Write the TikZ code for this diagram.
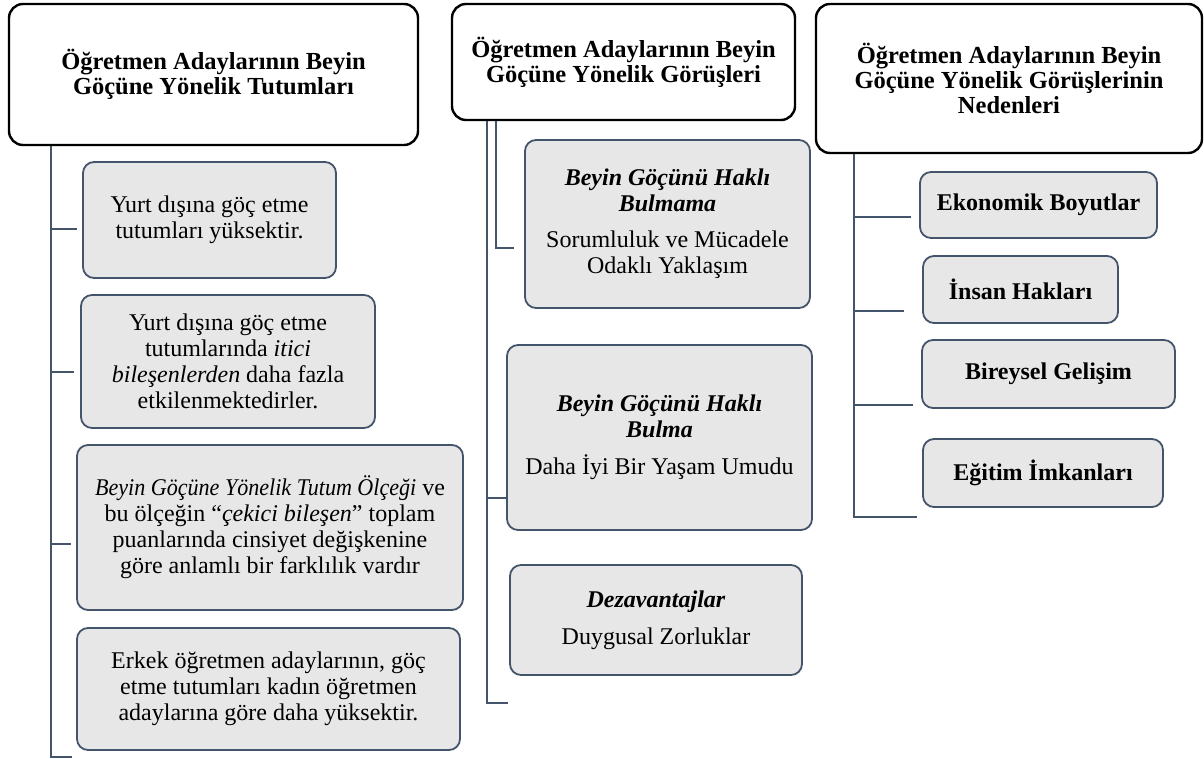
\documentclass[tikz,border=0pt]{standalone}
\usepackage{fontspec}
\setmainfont{Liberation Serif}
\usepackage{graphicx}
\usepackage{xcolor}
\usetikzlibrary{positioning}
\definecolor{koyu}{HTML}{44546A}
\definecolor{acik}{HTML}{E7E7E7}
\tikzset{
  baslik/.style={draw=black, line width=2.4pt, rounded corners=14pt, fill=white, align=center, inner sep=0pt, font=\bfseries\fontsize{24.5}{25}\selectfont},
  kutu/.style={draw=koyu, line width=1.8pt, rounded corners=11pt, fill=acik, align=center, inner sep=0pt, font=\fontsize{24}{26}\selectfont},
  kalin/.style={kutu, font=\bfseries\fontsize{24}{26}\selectfont},
  bag/.style={draw=koyu, line width=2.4pt}
}

\begin{document}
\begin{tikzpicture}[x=1pt, y=-1pt]
    \useasboundingbox (0,0) rectangle (1204,759);
    % basliklar
    \node[baslik, minimum width=409pt, minimum height=141pt] (tut) at (213.5,74.5) {Öğretmen Adaylarının Beyin\\Göçüne Yönelik Tutumları};
    \node[baslik, minimum width=343pt, minimum height=116pt] (gor) at (623.5,62) {Öğretmen Adaylarının Beyin\\Göçüne Yönelik Görüşleri};
    \node[baslik, minimum width=386pt, minimum height=149pt] (ned) at (1009,78.5) {Öğretmen Adaylarının Beyin\\Göçüne Yönelik Görüşlerinin\\Nedenleri};
    % tutumlar
    \node[kutu, minimum width=253pt, minimum height=116pt] (y1) at (209.5,220) {Yurt dışına göç etme\\tutumları yüksektir.};
    \node[kutu, minimum width=294pt, minimum height=133pt] (y2) at (228,361.5) {Yurt dışına göç etme\\tutumlarında \textit{itici}\\\textit{bileşenlerden} daha fazla\\etkilenmektedirler.};
    \node[kutu, minimum width=386pt, minimum height=165pt] (y3) at (270,527.5) {\scalebox{0.92}[1]{\textit{Beyin Göçüne Yönelik Tutum Ölçeği}} ve\\bu ölçeğin “\textit{çekici bileşen}” toplam\\puanlarında cinsiyet değişkenine\\göre anlamlı bir farklılık vardır};
    \node[kutu, minimum width=383pt, minimum height=122pt] (y4) at (268.5,689) {Erkek öğretmen adaylarının, göç\\etme tutumları kadın öğretmen\\adaylarına göre daha yüksektir.};
    % gorusler
    \node[kutu, minimum width=285pt, minimum height=168pt] (s1) at (667.5,224) {\textbf{\textit{Beyin Göçünü Haklı}}\\\textbf{\textit{Bulmama}}\\[10pt]Sorumluluk ve Mücadele\\Odaklı Yaklaşım};
    \node[kutu, minimum width=305pt, minimum height=185pt] (s2) at (659.5,437.5) {\textbf{\textit{Beyin Göçünü Haklı}}\\\textbf{\textit{Bulma}}\\[11pt]Daha İyi Bir Yaşam Umudu};
    \node[kutu, minimum width=292pt, minimum height=110pt] (s3) at (656,620) {\textbf{\textit{Dezavantajlar}}\\[11pt]Duygusal Zorluklar};
    % nedenler
    \node[kalin, minimum width=237pt, minimum height=66pt] (n1) at (1038.5,205) {Ekonomik Boyutlar};
    \node[kalin, minimum width=195pt, minimum height=67pt] (n2) at (1020.5,289.5) {İnsan Hakları};
    \node[kalin, minimum width=253pt, minimum height=68pt] (n3) at (1048.5,374) {Bireysel Gelişim};
    \node[kalin, minimum width=240pt, minimum height=68pt] (n4) at (1043,473) {Eğitim İmkanları};
    % baglar
    \coordinate (k1) at ([xshift=43pt]tut.south west);
    \coordinate (u1) at (72,757);
    \draw[bag] (k1) |- (u1);
    \draw[bag] (k1) |- ([xshift=-5pt, yshift=-9pt]y1.west);
    \draw[bag] (k1) |- ([xshift=-6pt, yshift=-10.5pt]y2.west);
    \draw[bag] (k1) |- ([xshift=-5pt, yshift=-16.5pt]y3.west);
    \coordinate (k2) at ([xshift=36pt]gor.south west);
    \coordinate (k3) at ([xshift=45pt]gor.south west);
    \coordinate (u2) at (508,703);
    \draw[bag] (k2) |- (u2);
    \draw[bag] (k2) |- ([yshift=-60.5pt]s2.west);
    \draw[bag] (k3) |- ([xshift=-10pt, yshift=-24pt]s1.west);
    \coordinate (k4) at ([xshift=39pt]ned.south west);
    \coordinate (u3) at (917,517);
    \draw[bag] (k4) |- (u3);
    \draw[bag] (k4) |- ([xshift=-8pt, yshift=-12pt]n1.west);
    \draw[bag] (k4) |- ([xshift=-18pt, yshift=-21.5pt]n2.west);
    \draw[bag] (k4) |- ([xshift=-8pt, yshift=-31pt]n3.west);
\end{tikzpicture}
\end{document}
